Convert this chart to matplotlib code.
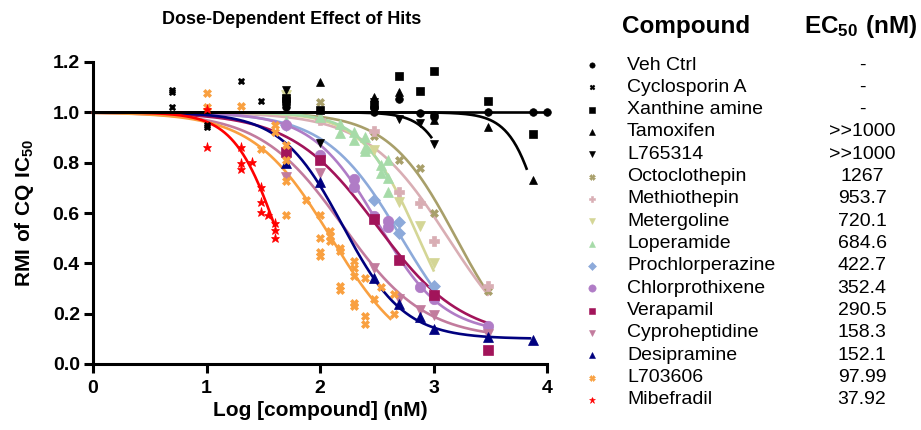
import numpy as np
import matplotlib.pyplot as plt

plt.rcParams['font.family'] = ['Liberation Sans', 'DejaVu Sans']
plt.rcParams['mathtext.fontset'] = 'custom'
plt.rcParams['mathtext.rm'] = 'Liberation Sans'
plt.rcParams['mathtext.bf'] = 'Liberation Sans:bold'

# legend table
compounds = ['Veh Ctrl', 'Cyclosporin A', 'Xanthine amine', 'Tamoxifen', 'L765314',
             'Octoclothepin', 'Methiothepin', 'Metergoline', 'Loperamide',
             'Prochlorperazine', 'Chlorprothixene', 'Verapamil', 'Cyproheptidine',
             'Desipramine', 'L703606', 'Mibefradil']
ec50_labels = ['-', '-', '-', '>>1000', '>>1000', '1267', '953.7', '720.1', '684.6',
               '422.7', '352.4', '290.5', '158.3', '152.1', '97.99', '37.92']

# measured points: log [compound] (nM) vs RMI
veh_x = [1.7, 2.48, 2.48, 2.7, 2.88, 3.0, 3.0, 3.48, 3.88, 4.0]
veh_y = [1.02, 1.0, 1.02, 1.053, 0.996, 0.98, 0.99, 1.0, 1.0, 1.0]
cyc_x = [0.7, 0.7, 0.7, 1.0, 1.0, 1.3, 1.48]
cyc_y = [1.09, 1.08, 1.02, 0.95, 0.94, 1.125, 1.045]
xan_x = [1.7, 1.7, 2.0, 2.48, 2.7, 2.88, 3.0, 3.48, 3.88]
xan_y = [1.055, 1.045, 1.01, 1.03, 1.145, 1.085, 1.165, 1.045, 0.913]
tam_x = [2.0, 2.48, 2.7, 3.0, 3.48, 3.88]
tam_y = [1.12, 1.06, 1.082, 0.97, 0.94, 0.73]
l765_x = [1.7, 2.0, 2.48, 2.7, 2.88, 3.0]
l765_y = [1.09, 0.877, 1.04, 0.973, 0.956, 0.873]
octo_x = [1.7, 2.0, 2.48, 2.7, 2.88, 3.0, 3.48]
octo_y = [1.06, 1.04, 0.905, 0.81, 0.78, 0.60, 0.29]
methio_x = [2.0, 2.48, 2.7, 2.88, 3.0, 3.48]
methio_y = [0.97, 0.925, 0.685, 0.64, 0.49, 0.31]
meterg_x = [1.7, 2.48, 2.7, 2.88, 3.0]
meterg_y = [1.07, 0.85, 0.645, 0.55, 0.40]
loper_x = [1.7, 2.0, 2.18, 2.18, 2.3, 2.3, 2.4, 2.4, 2.4, 2.54, 2.54, 2.6, 2.6, 2.6]
loper_y = [0.965, 0.98, 0.955, 0.917, 0.89, 0.92, 0.90, 0.86, 0.845, 0.79, 0.757, 0.81, 0.74, 0.685]
prochl_x = [1.7, 2.48, 2.7, 2.7, 3.0]
prochl_y = [0.95, 0.65, 0.563, 0.52, 0.31]
chlorp_x = [1.7, 2.0, 2.3, 2.3, 2.48, 2.6, 2.6, 2.88, 3.0, 3.48]
chlorp_y = [0.95, 0.83, 0.735, 0.705, 0.59, 0.57, 0.545, 0.305, 0.26, 0.15]
vera_x = [1.7, 2.0, 2.48, 2.7, 3.0, 3.48]
vera_y = [0.843, 0.81, 0.575, 0.413, 0.274, 0.055]
cypro_x = [1.7, 2.0, 2.48, 2.7, 2.88, 3.0, 3.48]
cypro_y = [0.745, 0.757, 0.38, 0.26, 0.215, 0.195, 0.12]
desip_x = [1.7, 2.0, 2.48, 2.7, 2.88, 3.0, 3.48, 3.88]
desip_y = [0.80, 0.724, 0.34, 0.238, 0.188, 0.138, 0.108, 0.097]
l703_x = [1.0, 1.0, 1.3, 1.48, 1.6, 1.6, 1.7, 1.7, 1.7, 1.7, 1.88, 2.0, 2.0, 2.0, 2.0,
          2.09, 2.09, 2.09, 2.18, 2.18, 2.18, 2.18, 2.3, 2.3, 2.3, 2.3, 2.3,
          2.4, 2.4, 2.4, 2.48, 2.54, 2.65, 2.65]
l703_y = [1.075, 1.022, 1.025, 0.853, 0.95, 0.923, 0.87, 0.81, 0.728, 0.592, 0.652,
          0.592, 0.502, 0.445, 0.43, 0.53, 0.51, 0.49, 0.46, 0.45, 0.31, 0.295,
          0.41, 0.38, 0.35, 0.241, 0.23, 0.34, 0.19, 0.16, 0.26, 0.305, 0.278, 0.20]
mibef_x = [1.0, 1.0, 1.3, 1.3, 1.3, 1.4, 1.48, 1.48, 1.48, 1.54, 1.6, 1.6, 1.6]
mibef_y = [1.012, 0.863, 0.863, 0.797, 0.773, 0.804, 0.704, 0.645, 0.603, 0.592,
           0.561, 0.532, 0.50]

# fitted sigmoid params: log midpoint, hill slope, bottom, last log dose of the fit
fit_logx0 = [3.0, None, None, 4.0, 3.3, 3.2, 3.13, 2.87, 2.84, 2.72, 2.51, 2.50, 2.20, 2.20, 2.10, 1.64]
fit_hill = [1.0, None, None, 3.0, 3.0, 1.45, 1.2, 1.75, 1.9, 1.3, 1.5, 1.15, 1.2, 1.6, 1.27, 2.2]
fit_bottom = [1.0, None, None, 0.0, 0.0, 0.0, 0.0, 0.0, 0.0, 0.0, 0.12, 0.10, 0.10, 0.10, 0.0, 0.0]
fit_end = [4.0, None, None, 3.82, 2.98, 3.48, 3.48, 3.0, 2.6, 3.0, 3.48, 3.48, 3.48, 3.85, 2.62, 1.6]

points = [(veh_x, veh_y), (cyc_x, cyc_y), (xan_x, xan_y), (tam_x, tam_y), (l765_x, l765_y),
          (octo_x, octo_y), (methio_x, methio_y), (meterg_x, meterg_y), (loper_x, loper_y),
          (prochl_x, prochl_y), (chlorp_x, chlorp_y), (vera_x, vera_y), (cypro_x, cypro_y),
          (desip_x, desip_y), (l703_x, l703_y), (mibef_x, mibef_y)]

colors = ['black', 'black', 'black', 'black', 'black', '#A89F6A', '#D9AEB4', '#D4D696',
          '#A6DBA8', '#8DAADA', '#B07CC6', '#A2145A', '#C27B9D', '#00007F', '#F9A040', '#FF0000']
markers = ['o', 'X', 's', '^', 'v', 'X', 'P', 'v', '^', 'D', 'o', 's', 'v', '^', 'X', '*']
msizes = [5.5, 5, 5.5, 5.5, 5.5, 6, 6.5, 7, 7, 6, 7.5, 6.5, 7, 6.5, 6, 6.5]

fig = plt.figure(figsize=(9.21, 4.30), dpi=100)
ax = fig.add_axes([93 / 921, 1 - 364 / 430, 454 / 921, 302 / 430])

order = list(range(5, 16)) + list(range(0, 5))
for i in order:
    if fit_logx0[i] is not None:
        xs = np.linspace(0, fit_end[i], 300)
        b = fit_bottom[i]
        ys = b + (1 - b) / (1 + 10 ** ((xs - fit_logx0[i]) * fit_hill[i]))
        ax.plot(xs, ys, color=colors[i], lw=1.9, zorder=2, clip_on=False)
for i in order:
    px, py = points[i]
    ax.plot(px, py, ls='none', marker=markers[i], ms=msizes[i], color=colors[i],
            mec=colors[i], mew=0.5, zorder=3, clip_on=False)

ax.set_xlim(0, 4)
ax.set_ylim(0, 1.2)
ax.set_xticks([0, 1, 2, 3, 4])
ax.set_yticks([0.0, 0.2, 0.4, 0.6, 0.8, 1.0, 1.2])
ax.set_yticklabels(['0.0', '0.2', '0.4', '0.6', '0.8', '1.0', '1.2'])
for s in ['top', 'right']:
    ax.spines[s].set_visible(False)
for s in ['left', 'bottom']:
    ax.spines[s].set_linewidth(2.2)
ax.tick_params(width=2.2, length=6.5, labelsize=14, pad=3)
ax.tick_params(axis='x', pad=5)
for lab in ax.get_xticklabels() + ax.get_yticklabels():
    lab.set_fontweight('bold')

fig.text(292 / 921, 1 - 20 / 430, 'Dose-Dependent Effect of Hits', fontsize=13,
         fontweight='bold', ha='center', va='center')
fig.text(320 / 921, 1 - 411 / 430, 'Log [compound] (nM)', fontsize=15,
         fontweight='bold', ha='center', va='center')
fig.text(25 / 921, 1 - 213 / 430, r'$\mathbf{RMI\ of\ CQ\ IC_{50}}$', fontsize=15,
         rotation=90, ha='center', va='center')

# legend table
lax = fig.add_axes([0, 0, 1, 1])
lax.set_xlim(0, 921)
lax.set_ylim(430, 0)
lax.axis('off')
lax.text(686, 26, 'Compound', fontsize=17.5, fontweight='bold', ha='center', va='center')
lax.text(861, 26, r'$\mathbf{EC_{50}\ (nM)}$', fontsize=17.5, ha='center', va='center')
for i, name in enumerate(compounds):
    ry = 65 + i * 22.33
    lax.plot([592], [ry], ls='none', marker=markers[i], ms=msizes[i] * 0.7,
             color=colors[i], mec=colors[i], mew=0.4)
    lax.text(627, ry, name, fontsize=14, ha='left', va='center')
    lax.text(862, ry, ec50_labels[i], fontsize=14, ha='center', va='center')

fig.savefig('out.png', dpi=100)
